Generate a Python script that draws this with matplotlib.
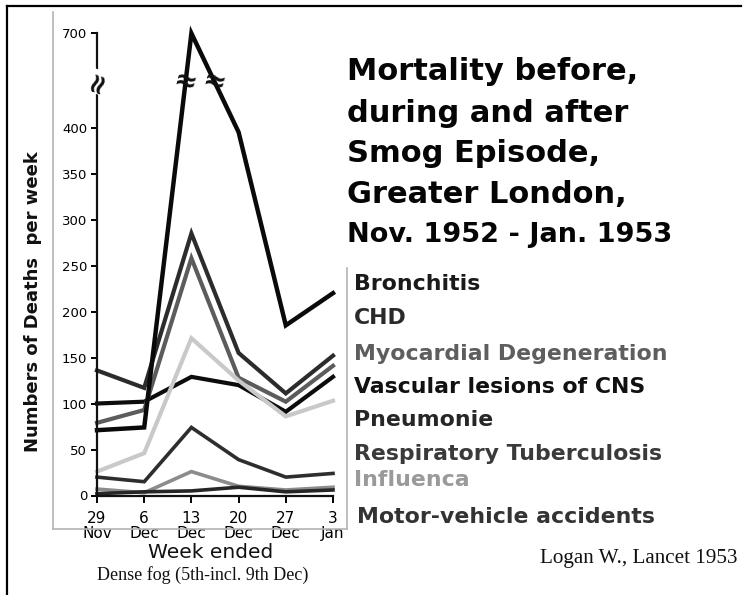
import numpy as np
import matplotlib
matplotlib.use("Agg")
import matplotlib.pyplot as plt
from matplotlib.lines import Line2D

# ---------------- data ----------------
weeks = ["29\nNov", "6\nDec", "13\nDec", "20\nDec", "27\nDec", "3\nJan"]
causes = ["Bronchitis", "CHD", "Myocardial Degeneration", "Vascular lesions of CNS",
          "Pneumonie", "Respiratory Tuberculosis", "Influenca", "Motor-vehicle accidents"]
bronchitis = [71, 74, 700, 395, 185, 220]
chd = [136, 117, 285, 155, 111, 152]
myocardial = [79, 93, 258, 128, 102, 141]
vascular = [100, 102, 129, 120, 91, 129]
pneumonie = [26, 46, 171, 125, 86, 103]
resp_tb = [20, 15, 74, 39, 20, 24]
influenca = [7, 3, 26, 10, 6, 9]
motor = [2, 4, 5, 9, 4, 6]
yticks = [0, 50, 100, 150, 200, 250, 300, 350, 400, 700]

title_lines = ["Mortality before,", "during and after", "Smog Episode,", "Greater London,"]
title_date = "Nov. 1952 - Jan. 1953"

# ---------------- figure ----------------
W, H = 746, 595
fig = plt.figure(figsize=(W / 100, H / 100), dpi=100)
fig.patch.set_facecolor("white")

def fx(px):
    return px / W

def fy(py):
    return 1 - py / H

ax = fig.add_axes([fx(97), fy(495.5), fx(333) - fx(97), fy(33.3) - fy(495.5)])

BRK, K = 450.0, 0.21

def fwd(v):
    v = np.asarray(v, dtype=float)
    return np.where(v <= BRK, v, BRK + (v - BRK) * K)

def inv(u):
    u = np.asarray(u, dtype=float)
    return np.where(u <= BRK, u, BRK + (u - BRK) / K)

ax.set_yscale("function", functions=(fwd, inv))

x = np.arange(len(weeks))
series = [
    (vascular, "#0c0c0c", 3.0),
    (myocardial, "#5c5c5c", 3.0),
    (chd, "#2c2c2c", 3.0),
    (pneumonie, "#c9c9c9", 3.0),
    (resp_tb, "#2e2e2e", 2.6),
    (influenca, "#8c8c8c", 2.6),
    (motor, "#262626", 2.6),
    (bronchitis, "#0a0a0a", 3.2),
]
for vals, col, lw in series:
    ax.plot(x, vals, color=col, lw=lw, solid_joinstyle="miter", clip_on=False)

ax.set_xlim(0, 5)
ax.set_ylim(0, 700)
for s in ["top", "right"]:
    ax.spines[s].set_visible(False)
for s in ["left", "bottom"]:
    ax.spines[s].set_linewidth(1.6)
    ax.spines[s].set_color("#111111")

ax.set_xticks(x)
ax.set_xticklabels(weeks, fontsize=11, family="DejaVu Sans", linespacing=1.05)
ax.set_yticks(yticks)
ax.set_yticklabels([str(t) for t in yticks], fontsize=9.5, family="DejaVu Sans")
ax.tick_params(axis="x", direction="out", length=5, width=1.4, pad=6)
ax.tick_params(axis="y", direction="out", length=4, width=1.4, pad=3)
ax.set_facecolor("none")

# break marks on axis and on the bronchitis line
ax.text(0, BRK, "≈", rotation=70, fontsize=20, fontweight="bold", ha="center",
        va="center", color="#111111", clip_on=False,
        bbox=dict(facecolor="white", edgecolor="none", pad=0.2))
ub = float(fwd(BRK))
for i in range(len(bronchitis) - 1):
    u0, u1 = float(fwd(bronchitis[i])), float(fwd(bronchitis[i + 1]))
    if (u0 - ub) * (u1 - ub) < 0:
        t = (ub - u0) / (u1 - u0)
        ax.text(i + t, BRK, "≈", fontsize=20, fontweight="bold", ha="center",
                va="center", color="#111111", rotation=-15, clip_on=False)

# axis labels
fig.text(fx(33), fy(301.5), "Numbers of Deaths  per week", rotation=90,
         ha="center", va="center", fontsize=13, fontweight="bold",
         family="DejaVu Sans", color="#111111")
fig.text(fx(211), fy(553), "Week ended", ha="center", va="center",
         fontsize=14.5, family="DejaVu Sans", color="#111111")
fig.text(fx(203), fy(575), "Dense fog (5th-incl. 9th Dec)", ha="center", va="center",
         fontsize=13, family="Liberation Serif", color="#111111")
fig.text(fx(737), fy(563), "Logan W., Lancet 1953", ha="right", va="baseline",
         fontsize=15.2, family="Liberation Serif", color="#111111")

# title
for line, base in zip(title_lines, [80, 121.7, 161.7, 203]):
    fig.text(fx(347), fy(base), line, ha="left", va="baseline", fontsize=22,
             fontweight="bold", family="DejaVu Sans", color="#050505")
fig.text(fx(347), fy(241.7), title_date, ha="left", va="baseline", fontsize=19.5,
         fontweight="bold", family="DejaVu Sans", color="#050505")

# legend text list
leg_colors = ["#1a1a1a", "#2a2a2a", "#5e5e5e", "#111111", "#262626", "#3a3a3a",
              "#9a9a9a", "#333333"]
leg_base = [289.5, 324.5, 359.5, 393, 426, 459.5, 486, 523]
leg_x = [354, 354, 354, 354, 354, 354, 354, 357]
for name, col, b, lx in zip(causes, leg_colors, leg_base, leg_x):
    fig.text(fx(lx), fy(b), name, ha="left", va="baseline", fontsize=15.8,
             fontweight="bold", family="DejaVu Sans", color=col)

# inner gray frame of the pasted chart
gray = "#b4b4b4"
fig.add_artist(Line2D([fx(53), fx(53)], [fy(12), fy(529)], color=gray, lw=1.2))
fig.add_artist(Line2D([fx(53), fx(347)], [fy(529), fy(529)], color=gray, lw=1.2))
fig.add_artist(Line2D([fx(347), fx(347)], [fy(268), fy(529)], color=gray, lw=1.2))

# outer black frame
fig.add_artist(Line2D([fx(7), fx(7)], [0, fy(6)], color="black", lw=1.6))
fig.add_artist(Line2D([fx(7), fx(741)], [fy(6), fy(6)], color="black", lw=1.6))

fig.savefig("out.png", dpi=100)
